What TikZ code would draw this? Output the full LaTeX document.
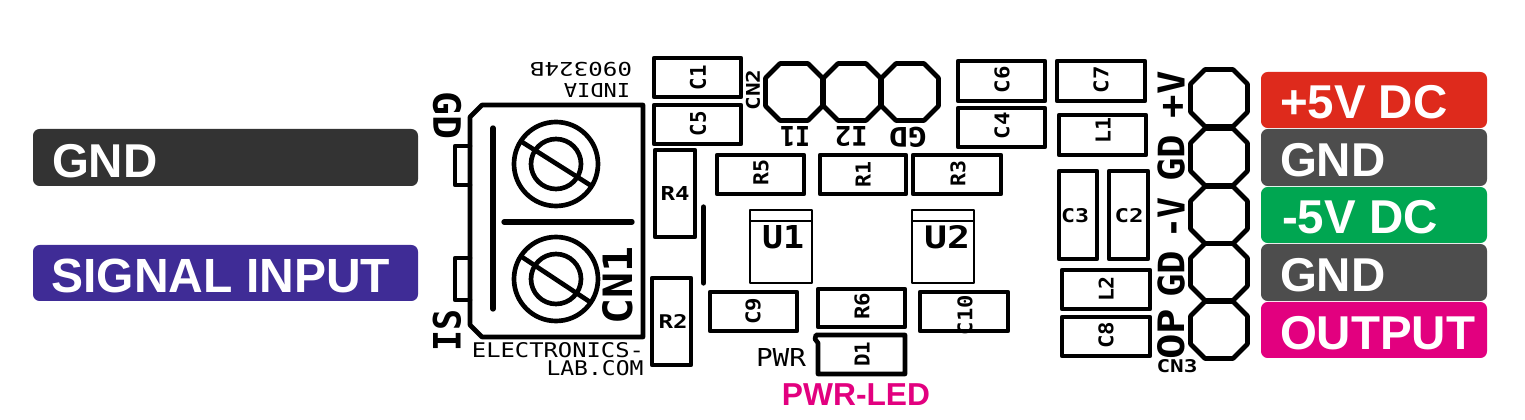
\documentclass[tikz,border=0pt]{standalone}
\usepackage{fontspec}
\usepackage{graphicx}
\setmainfont{Liberation Sans}
\newfontfamily\silkfont{DejaVu Sans Mono}
\definecolor{tagred}{HTML}{DE2A1C}
\definecolor{taggray}{HTML}{4D4D4D}
\definecolor{tagdark}{HTML}{333333}
\definecolor{taggreen}{HTML}{00A651}
\definecolor{tagpink}{HTML}{E2007F}
\definecolor{tagpurple}{HTML}{3F2C96}
% silk text fitted to a width and height given in pixels
\newcommand{\sk}[3]{\resizebox{#1\dimexpr0.75pt\relax}{#2\dimexpr0.75pt\relax}{\silkfont\bfseries #3}}
\newcommand{\skthin}[3]{\resizebox{#1\dimexpr0.75pt\relax}{#2\dimexpr0.75pt\relax}{\silkfont #3}}
\tikzset{
  pad/.style={draw=black,line width=3.5pt,line join=round,line cap=round},
  padthin/.style={draw=black,line width=1.8pt,line join=round},
  bar/.style={draw=black,line width=4pt,line cap=round},
  silk/.style={inner sep=0pt,outer sep=0pt,text=black},
  tagbox/.style={rounded corners=5pt},
  tagtext/.style={inner sep=0pt,outer sep=0pt,text=white,font=\bfseries\fontsize{35.6pt}{36pt}\selectfont,anchor=base west},
  octo/.pic={\draw[pad] (-28.5,-14) -- (-14,-28.5) -- (14,-28.5) -- (28.5,-14) -- (28.5,14) -- (14,28.5) -- (-14,28.5) -- (-28.5,14) -- cycle;}
}
\begin{document}
\begin{tikzpicture}[x=0.75pt,y=-0.75pt]
\useasboundingbox (0,0) rectangle (1525,420);
% left tags
\fill[tagdark,tagbox] (33,129) rectangle (418,186);
\fill[tagpurple,tagbox] (33,245) rectangle (418,301);
\node[tagtext] (lgnd) at (52,178) {GND};
\node[tagtext,font=\bfseries\fontsize{36pt}{37pt}\selectfont] (lsig) at (51.5,293) {SIGNAL INPUT};
% right tags
\fill[tagred,tagbox] (1261,72) rectangle (1487,128);
\fill[taggray,tagbox] (1261,129) rectangle (1487,186);
\fill[taggreen,tagbox] (1261,187) rectangle (1487,243);
\fill[taggray,tagbox] (1261,244) rectangle (1487,301);
\fill[tagpink,tagbox] (1261,302) rectangle (1487,358);
\node[tagtext] (rplus) at (1280,119) {+5V DC};
\node[tagtext] (rgnda) at (1280,177) {GND};
\node[tagtext] (rminus) at (1282,234) {-5V DC};
\node[tagtext] (rgndb) at (1280,292) {GND};
\node[tagtext] (rout) at (1280,350) {OUTPUT};
% terminal block CN1
\draw[pad] (482,105) -- (643,105) -- (643,337) -- (482,337) -- (470,325) -- (470,117) -- cycle;
\draw[pad] (470,146) -- (455,146) -- (455,185) -- (470,185);
\draw[pad] (470,258) -- (455,258) -- (455,300) -- (470,300);
\draw[bar] (493,128) -- (493,309);
\draw[bar] (504,222) -- (632,222);
\draw[pad] (556,164) circle[radius=42];
\draw[pad] (556,164) circle[radius=25];
\draw[pad,line cap=butt] (522,142) -- (590,185);
\draw[pad] (556,279) circle[radius=42];
\draw[pad] (556,279) circle[radius=25];
\draw[pad,line cap=butt] (522,257) -- (590,302);
\node[silk,rotate=90] (cn1) at (618,285) {\sk{78}{30}{CN1}};
\node[silk,rotate=-90] (gdl) at (447,116) {\sk{48}{28}{GD}};
\node[silk,rotate=90] (isl) at (447,330) {\sk{42}{28}{IS}};
\node[silk,rotate=180] (rev) at (581,69) {\skthin{102}{14}{090324B}};
\node[silk,rotate=180] (india) at (597,91) {\skthin{66}{14}{INDIA}};
\node[silk] (elec) at (558,350) {\skthin{172}{15}{ELECTRONICS-}};
\node[silk] (labc) at (595,368) {\skthin{97}{15}{LAB.COM}};
% parts
\draw[pad] (654,58) rectangle (741,97);
\draw[pad] (654,105) rectangle (741,144);
\draw[pad] (655,150) rectangle (695,237);
\draw[pad] (652,278) rectangle (691,365);
\draw[bar] (703.5,207) -- (703.5,283);
\draw[pad] (717,155) rectangle (804,194);
\draw[pad] (820,155) rectangle (906,194);
\draw[pad] (913,155) rectangle (1001,194);
\draw[padthin] (750,210) rectangle (812,283);
\draw[padthin] (750,221) -- (812,221);
\draw[padthin] (912,210) rectangle (974,283);
\draw[padthin] (912,221) -- (974,221);
\draw[pad] (710,292) rectangle (797,331);
\draw[pad] (818,289) rectangle (905,327);
\draw[pad] (920,292) rectangle (1008,331);
\draw[pad] (816,335) -- (905,335) -- (905,374) -- (818,374) -- (818,343) -- (815,339) -- cycle;
\draw[pad] (958,61) rectangle (1045,101);
\draw[pad] (958,108) rectangle (1045,147);
\draw[pad] (1057,61) rectangle (1145,101);
\draw[pad] (1059,115) rectangle (1146,155);
\draw[pad] (1059,171) rectangle (1097,259);
\draw[pad] (1109,171) rectangle (1148,259);
\draw[pad] (1062,270) rectangle (1150,309);
\draw[pad] (1062,317) rectangle (1150,356);
% headers
\pic at (794,92) {octo};
\pic at (852,92) {octo};
\pic at (910,92) {octo};
\pic at (1219,98) {octo};
\pic at (1219,157) {octo};
\pic at (1219,215) {octo};
\pic at (1219,272) {octo};
\pic at (1219,330) {octo};
% part labels
\node[silk,rotate=90] (tc1) at (698,78) {\sk{25}{16}{C1}};
\node[silk,rotate=90] (tc5) at (698,124) {\sk{25}{16}{C5}};
\node[silk] (tr4) at (675,194) {\sk{29}{14}{R4}};
\node[silk] (tr2) at (673,322) {\sk{29}{14}{R2}};
\node[silk,rotate=90] (tr5) at (761,173) {\sk{26}{15}{R5}};
\node[silk,rotate=90] (tr1) at (863,175) {\sk{26}{15}{R1}};
\node[silk,rotate=90] (tr3) at (958,174) {\sk{26}{15}{R3}};
\node[silk,rotate=90] (tc9) at (753,311) {\sk{27}{15}{C9}};
\node[silk,rotate=90] (tr6) at (862,306) {\sk{27}{15}{R6}};
\node[silk,rotate=90] (tc10) at (965,315) {\sk{40}{15}{C10}};
\node[silk,rotate=90] (td1) at (862,354) {\sk{25}{15}{D1}};
\node[silk,rotate=90] (tc6) at (1002,80) {\sk{27}{15}{C6}};
\node[silk,rotate=90] (tc4) at (1002,126) {\sk{27}{15}{C4}};
\node[silk,rotate=90] (tc7) at (1101,80) {\sk{27}{15}{C7}};
\node[silk,rotate=90] (tl1) at (1103,131) {\sk{26}{15}{L1}};
\node[silk] (tc3) at (1075,216) {\sk{28}{14}{C3}};
\node[silk] (tc2) at (1129,216) {\sk{29}{14}{C2}};
\node[silk,rotate=90] (tl2) at (1106,289) {\sk{26}{15}{L2}};
\node[silk,rotate=90] (tc8) at (1106,335) {\sk{27}{15}{C8}};
\node[silk,rotate=90] (tcn2) at (753,90) {\sk{41}{14}{CN2}};
\node[silk,rotate=180] (ti1) at (795,137) {\sk{30}{20}{I1}};
\node[silk,rotate=180] (ti2) at (851,137) {\sk{33}{20}{I2}};
\node[silk,rotate=180] (tgd) at (908,137) {\sk{38}{20}{GD}};
\node[silk] (tu1) at (783,237) {\sk{42}{23}{U1}};
\node[silk] (tu2) at (947,237) {\sk{46}{23}{U2}};
\node[silk] (tpwr) at (781,358) {\skthin{50}{18}{PWR}};
\node[silk] (tcn3) at (1177,366) {\sk{41}{13}{CN3}};
\node[silk,rotate=90] (tpv) at (1171,95) {\sk{47}{27}{+V}};
\node[silk,rotate=90] (tgda) at (1171,158) {\sk{47}{27}{GD}};
\node[silk,rotate=90] (tmv) at (1171,218) {\sk{42}{27}{-V}};
\node[silk,rotate=90] (tgdb) at (1171,274) {\sk{47}{27}{GD}};
\node[silk,rotate=90] (top) at (1171,334) {\sk{51}{27}{OP}};
\node[inner sep=0pt,text=tagpink,font=\bfseries\fontsize{23.8pt}{24pt}\selectfont,anchor=base] (tled) at (856,405) {PWR-LED};
\end{tikzpicture}
\end{document}
